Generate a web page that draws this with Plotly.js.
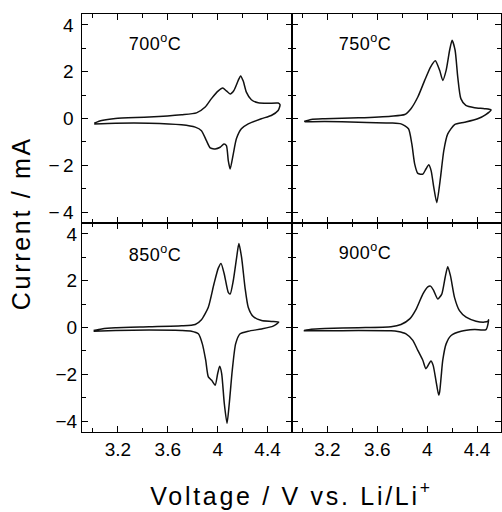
<!DOCTYPE html>
<html>
<head>
<meta charset="utf-8">
<script src="https://cdn.plot.ly/plotly-3.0.1.min.js"></script>
<style>
  html, body { margin: 0; padding: 0; background: #fff; }
  #chart { width: 502px; height: 512px; }
  .xtick text, .ytick text { letter-spacing: 3.5px; }
  .annotation[data-index="0"] text, .annotation[data-index="1"] text { letter-spacing: 2.7px; }
  .annotation[data-index="2"] text, .annotation[data-index="3"] text,
  .annotation[data-index="4"] text, .annotation[data-index="5"] text { letter-spacing: 0.5px; }
</style>
</head>
<body>
<div id="chart"></div>
<script>
// Panel labels (sintering temperature)
const panelLabels = ['700<sup>o</sup>C', '750<sup>o</sup>C', '850<sup>o</sup>C', '900<sup>o</sup>C'];

// Tick labels
const xTickVals = [3.2, 3.6, 4.0, 4.4];
const xTickText = ['3.2', '3.6', '4', '4.4'];
const xMinorVals = [3.0, 3.4, 3.8, 4.2, 4.6];
const yTickVals = [-4, -2, 0, 2, 4];
const yTickText = ['\u22124', '\u22122', '0', '2', '4'];
const yMinorVals = [-3, -1, 1, 3];

// 700 °C cyclic voltammogram (V vs Li/Li+, mA)
const v700 = [3.01, 3.07, 3.18, 3.45, 3.71, 3.83, 3.90, 3.95, 4.005, 4.04, 4.07, 4.10, 4.13, 4.165, 4.184, 4.205, 4.23, 4.27, 4.325, 4.405, 4.485, 4.50,
              4.485, 4.43, 4.35, 4.245, 4.19, 4.15, 4.125, 4.10, 4.085, 4.07, 4.05, 4.02, 3.98, 3.94, 3.91, 3.87, 3.82, 3.71, 3.45, 3.18, 3.01];
const i700 = [-0.20, -0.09, 0.00, 0.06, 0.16, 0.24, 0.49, 0.85, 1.18, 1.30, 1.18, 1.05, 1.20, 1.63, 1.82, 1.60, 1.13, 0.80, 0.67, 0.65, 0.66, 0.59,
              0.34, 0.13, -0.01, -0.23, -0.44, -0.87, -1.52, -2.16, -1.80, -1.16, -1.09, -1.23, -1.30, -1.26, -0.95, -0.52, -0.37, -0.27, -0.20, -0.20, -0.23];

// 750 °C
const v750 = [3.013, 3.07, 3.18, 3.45, 3.71, 3.82, 3.87, 3.925, 3.98, 4.027, 4.065, 4.10, 4.125, 4.152, 4.18, 4.20, 4.224, 4.245, 4.27, 4.31, 4.38, 4.46, 4.512,
              4.47, 4.405, 4.30, 4.22, 4.165, 4.133, 4.107, 4.077, 4.053, 4.032, 4.013, 3.99, 3.965, 3.925, 3.90, 3.877, 3.85, 3.79, 3.71, 3.45, 3.18, 3.02];
const i750 = [-0.13, -0.04, -0.01, 0.03, 0.10, 0.17, 0.42, 0.92, 1.63, 2.20, 2.47, 2.06, 1.63, 2.06, 2.92, 3.35, 2.92, 1.78, 0.85, 0.56, 0.46, 0.42, 0.37,
              0.17, -0.01, -0.16, -0.26, -0.66, -1.38, -2.52, -3.60, -2.95, -2.24, -1.98, -2.16, -2.38, -2.35, -1.95, -1.09, -0.44, -0.23, -0.19, -0.16, -0.13, -0.14];

// 850 °C
const v850 = [3.005, 3.07, 3.18, 3.45, 3.71, 3.82, 3.87, 3.925, 3.97, 4.005, 4.027, 4.053, 4.085, 4.10, 4.125, 4.152, 4.17, 4.192, 4.219, 4.245, 4.285, 4.352, 4.43, 4.49,
              4.445, 4.352, 4.245, 4.18, 4.144, 4.117, 4.093, 4.075, 4.053, 4.032, 4.016, 4.0, 3.98, 3.952, 3.925, 3.904, 3.877, 3.845, 3.79, 3.71, 3.45, 3.18, 3.005];
const i850 = [-0.13, -0.06, -0.01, 0.03, 0.07, 0.13, 0.33, 0.87, 1.86, 2.54, 2.74, 2.28, 1.50, 1.43, 2.00, 2.99, 3.59, 2.99, 1.72, 0.87, 0.47, 0.30, 0.26, 0.23,
              0.06, -0.06, -0.16, -0.27, -0.70, -1.83, -3.25, -4.10, -3.25, -1.97, -1.66, -1.97, -2.47, -2.26, -2.11, -1.40, -0.70, -0.27, -0.16, -0.13, -0.11, -0.13, -0.16];

// 900 °C
const v900 = [3.013, 3.07, 3.18, 3.45, 3.71, 3.79, 3.86, 3.912, 3.965, 4.005, 4.027, 4.053, 4.085, 4.117, 4.144, 4.165, 4.187, 4.219, 4.259, 4.312, 4.392, 4.459, 4.485, 4.493,
              4.472, 4.38, 4.272, 4.192, 4.152, 4.125, 4.112, 4.10, 4.092, 4.07, 4.048, 4.03, 3.99, 3.965, 3.925, 3.885, 3.83, 3.765, 3.71, 3.45, 3.18, 3.01];
const i900 = [-0.13, -0.07, -0.04, -0.01, 0.03, 0.13, 0.37, 0.79, 1.43, 1.74, 1.77, 1.57, 1.22, 1.43, 2.14, 2.60, 2.21, 1.29, 0.72, 0.44, 0.27, 0.23, 0.26, 0.33,
              -0.09, -0.09, -0.16, -0.34, -0.70, -1.40, -2.11, -2.75, -2.89, -2.26, -1.62, -1.43, -1.76, -1.40, -0.98, -0.55, -0.27, -0.17, -0.14, -0.13, -0.14, -0.14];

const FONT = 'Liberation Sans, Arial, Helvetica, sans-serif';

function cvTrace(x, y, xa, ya) {
  return {
    x: x, y: y, xaxis: xa, yaxis: ya,
    type: 'scatter', mode: 'lines',
    line: { color: '#111', width: 1.5, shape: 'spline', smoothing: 0.6 },
    hoverinfo: 'skip', showlegend: false
  };
}

const traces = [
  cvTrace(v700, i700, 'x', 'y'),
  cvTrace(v750, i750, 'x2', 'y2'),
  cvTrace(v850, i850, 'x3', 'y3'),
  cvTrace(v900, i900, 'x4', 'y4')
];

function xAxis(domain, anchor, labels) {
  return {
    domain: domain, anchor: anchor, range: [2.912, 4.592],
    showline: true, linecolor: '#000', linewidth: 1, mirror: 'ticks',
    ticks: 'inside', ticklen: 6, tickwidth: 1, tickcolor: '#000',
    tickmode: 'array', tickvals: xTickVals, ticktext: xTickText,
    showticklabels: labels,
    tickfont: { family: FONT, size: 19, color: '#000' },
    minor: { tickmode: 'array', tickvals: xMinorVals, ticks: 'inside', ticklen: 4, tickwidth: 1, tickcolor: '#000' },
    showgrid: false, zeroline: false, fixedrange: true
  };
}
function yAxis(domain, anchor, labels) {
  return {
    domain: domain, anchor: anchor, range: [-4.47, 4.47],
    showline: true, linecolor: '#000', linewidth: 1, mirror: 'ticks',
    ticks: 'inside', ticklen: 6, tickwidth: 1, tickcolor: '#000',
    tickmode: 'array', tickvals: yTickVals, ticktext: yTickText,
    showticklabels: labels,
    tickfont: { family: FONT, size: 19, color: '#000' },
    minor: { tickmode: 'array', tickvals: yMinorVals, ticks: 'inside', ticklen: 4, tickwidth: 1, tickcolor: '#000' },
    showgrid: false, zeroline: false, fixedrange: true
  };
}

function panelLabel(text, xa, ya, yv) {
  return {
    text: text, xref: xa, yref: ya, x: 3.50, y: yv,
    xanchor: 'center', yanchor: 'middle', showarrow: false,
    font: { family: FONT, size: 18, color: '#000' }
  };
}

const layout = {
  width: 502, height: 512, autosize: false,
  margin: { l: 82, r: 1, t: 14, b: 80, pad: 0 },
  paper_bgcolor: '#fff', plot_bgcolor: '#fff',
  font: { family: FONT, color: '#000' },
  showlegend: false,
  xaxis:  xAxis([0, 0.5], 'y', false),
  yaxis:  yAxis([0.5, 1], 'x', true),
  xaxis2: xAxis([0.5, 1], 'y2', false),
  yaxis2: yAxis([0.5, 1], 'x2', false),
  xaxis3: xAxis([0, 0.5], 'y3', true),
  yaxis3: yAxis([0, 0.5], 'x3', true),
  xaxis4: xAxis([0.5, 1], 'y4', true),
  yaxis4: yAxis([0, 0.5], 'x4', false),
  annotations: [
    { text: 'Voltage / V vs. Li/Li<sup>+</sup>', xref: 'paper', yref: 'paper', x: 0.5, y: -0.148,
      xanchor: 'center', yanchor: 'middle', showarrow: false,
      font: { family: FONT, size: 25, color: '#000' } },
    { text: 'Current / mA', xref: 'paper', yref: 'paper', x: -0.1456, y: 0.5, textangle: -90,
      xanchor: 'center', yanchor: 'middle', showarrow: false,
      font: { family: FONT, size: 25, color: '#000' } },
    panelLabel(panelLabels[0], 'x', 'y', 3.23),
    panelLabel(panelLabels[1], 'x2', 'y2', 3.25),
    panelLabel(panelLabels[2], 'x3', 'y3', 3.17),
    panelLabel(panelLabels[3], 'x4', 'y4', 3.26)
  ]
};

Plotly.newPlot('chart', traces, layout, { staticPlot: true, displayModeBar: false });
</script>
</body>
</html>
